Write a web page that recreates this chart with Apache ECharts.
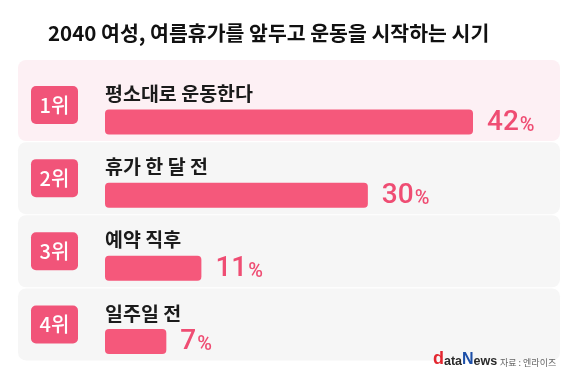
<!DOCTYPE html>
<html><head><meta charset="utf-8">
<script src="https://cdn.jsdelivr.net/npm/echarts@6/dist/echarts.min.js"></script>
<style>html,body{margin:0;padding:0;background:#fff}#c{width:580px;height:378px}</style>
</head><body><div id="c"></div>
<script>
const titleText = '2040 여성, 여름휴가를 앞두고 운동을 시작하는 시기';
const ranks = ['1위', '2위', '3위', '4위'];
const categories = ['평소대로 운동한다', '휴가 한 달 전', '예약 직후', '일주일 전'];
const values = [42, 30, 11, 7];
const sourceText = '자료 : 엔라이즈';

const FONT = '"Noto Sans CJK KR", "Noto Sans", sans-serif';
const PINK = '#f5587b';
const TXT_PINK = '#ef4d73';

const chart = echarts.init(document.getElementById('c'), null, {renderer: 'canvas'});
chart.setOption({
  backgroundColor: '#ffffff',
  animation: false,
  title: {
    text: titleText, left: 43, top: 18,
    textStyle: {fontFamily: FONT, fontSize: 20.5, fontWeight: 'bold', color: '#111'}
  },
  grid: {left: 105, width: 368, top: 85.4, height: 310},
  xAxis: {type: 'value', min: 0, max: Math.max(...values), show: false},
  yAxis: {type: 'category', data: categories, inverse: true, show: false},
  series: [
    {
      type: 'bar', data: values, barWidth: 25, z: 3,
      itemStyle: {color: PINK, borderRadius: 4},
      label: {
        show: true, position: 'right', distance: 14,
        formatter: p => '{n|' + p.value + '}{p|%}',
        rich: {
          n: {fontFamily: 'Roboto', fontSize: 28, fontWeight: 500, color: TXT_PINK, lineHeight: 30, verticalAlign: 'bottom'},
          p: {fontFamily: 'Roboto', fontSize: 20, fontWeight: 500, color: TXT_PINK, lineHeight: 24, verticalAlign: 'bottom', padding: [0, 0, 1, 1]}
        }
      }
    },
    {
      type: 'bar', data: values, barWidth: 25, barGap: '-100%', z: 4, silent: true,
      itemStyle: {color: 'rgba(0,0,0,0)'},
      label: {
        show: true, position: [0, -6], align: 'left', verticalAlign: 'bottom',
        formatter: p => categories[p.dataIndex],
        fontFamily: FONT, fontSize: 19.5, fontWeight: 'bold', color: '#1b1b1b'
      }
    }
  ]
});

const els = [];
categories.forEach((cat, i) => {
  const c = chart.convertToPixel({yAxisIndex: 0}, cat);
  const top = i === 0 ? c - 62 : c - 53;
  const bottom = c + 19;
  els.push({
    type: 'rect', z: -10,
    shape: {x: 18, y: top, width: 542, height: bottom - top, r: 8},
    style: {fill: i === 0 ? '#fdf0f4' : '#f6f6f6'}
  });
  els.push({
    type: 'rect', z: 1,
    shape: {x: 31, y: c - 17 - 19, width: 47, height: 38, r: 5},
    style: {fill: '#f15479'}
  });
  els.push({
    type: 'text', z: 2,
    style: {
      text: ranks[i], x: 54.5, y: c - 17,
      align: 'center', verticalAlign: 'middle', textAlign: 'center', textVerticalAlign: 'middle',
      fill: '#ffffff', font: '500 20px ' + FONT
    }
  });
});
els.push({
  type: 'text', z: 5,
  style: {
    text: '{r|d}{k|ata}{b|N}{k|ews}', x: 433, y: 368,
    align: 'left', verticalAlign: 'bottom', textAlign: 'left', textVerticalAlign: 'bottom',
    rich: {
      r: {fontFamily: 'Arial, "Liberation Sans"', fontSize: 18, fontWeight: 'bold', fill: '#e3262f', color: '#e3262f', verticalAlign: 'bottom', lineHeight: 19},
      k: {fontFamily: 'Arial, "Liberation Sans"', fontSize: 12.5, fontWeight: 'bold', fill: '#2b2b2b', color: '#2b2b2b', verticalAlign: 'bottom', lineHeight: 17},
      b: {fontFamily: 'Arial, "Liberation Sans"', fontSize: 16, fontWeight: 'bold', fill: '#1d4fa8', color: '#1d4fa8', verticalAlign: 'bottom', lineHeight: 18}
    }
  }
});
els.push({
  type: 'text', z: 5,
  style: {
    text: sourceText, x: 500, y: 363,
    align: 'left', verticalAlign: 'middle', textAlign: 'left', textVerticalAlign: 'middle',
    fill: '#666666', font: '9px ' + FONT
  }
});
chart.setOption({graphic: {elements: els}});
</script>
</body></html>
